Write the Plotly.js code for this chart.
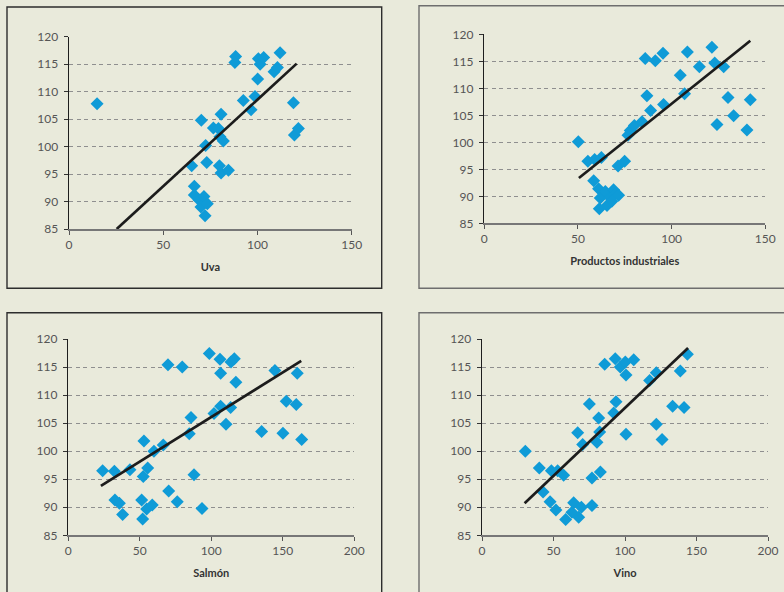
<!DOCTYPE html>
<html>
<head>
<meta charset="utf-8">
<script src="https://cdn.plot.ly/plotly-3.0.1.min.js"></script>
<style>
html,body{margin:0;padding:0;background:#e9eadb;}
#chart{width:784px;height:592px;}
</style>
</head>
<body>
<div id="chart"></div>
<script>
// ---- Data ----
const panelTitles = ["Uva", "Productos industriales", "Salmón", "Vino"];

const uvaX = [14.9, 88.4, 88.0, 70.2, 80.7, 76.6, 79.3, 72.5, 80.1, 81.9, 65.1, 73.1, 79.8, 80.7, 84.6, 66.5, 66.5, 69.0, 71.6, 70.0, 73.4, 72.2, 92.5, 96.6, 98.7, 100.1, 100.5, 101.4, 103.3, 108.8, 110.6, 112.0, 119.1, 119.6, 121.7];
const uvaY = [107.8, 116.4, 115.3, 104.8, 105.9, 103.4, 103.3, 100.2, 101.8, 101.0, 96.5, 97.1, 96.5, 95.2, 95.7, 92.8, 91.2, 90.3, 90.9, 89.0, 89.6, 87.4, 108.4, 106.7, 109.1, 112.3, 116.0, 115.0, 116.2, 113.6, 114.4, 117.1, 108.0, 102.1, 103.3];
const uvaTrendX = [25.3, 120.8];
const uvaTrendY = [85.0, 115.1];

const prodX = [50.2, 55.3, 58.9, 62.5, 58.4, 61.0, 61.9, 61.4, 64.6, 65.5, 67.3, 69.0, 69.6, 71.7, 68.1, 71.4, 74.9, 76.7, 77.9, 80.1, 84.2, 85.9, 86.8, 88.8, 91.3, 95.4, 95.7, 104.6, 106.9, 108.4, 114.8, 121.5, 123.0, 124.2, 127.8, 130.1, 133.1, 140.2, 142.0];
const prodY = [100.1, 96.5, 96.8, 97.2, 92.9, 91.4, 89.7, 87.7, 90.9, 88.3, 89.7, 91.2, 90.3, 90.2, 89.1, 95.6, 96.5, 101.3, 102.2, 103.1, 103.8, 115.5, 108.6, 105.9, 115.1, 116.5, 107.0, 112.4, 109.0, 116.7, 114.0, 117.6, 114.7, 103.3, 114.0, 108.3, 104.9, 102.3, 107.9];
const prodTrendX = [50.5, 142.0];
const prodTrendY = [93.4, 118.8];

const salmonX = [24.0, 32.2, 32.6, 35.7, 38.0, 43.1, 52.9, 52.4, 55.5, 51.3, 52.0, 54.8, 58.7, 59.9, 66.4, 69.7, 70.2, 76.2, 79.7, 84.6, 85.8, 87.9, 93.5, 98.6, 101.9, 106.5, 106.1, 106.5, 110.3, 113.5, 113.8, 116.1, 117.2, 135.2, 144.5, 150.1, 152.4, 159.4, 160.1, 163.2];
const salmonY = [96.5, 96.4, 91.3, 90.7, 88.7, 96.7, 101.8, 95.5, 97.0, 91.3, 87.9, 89.7, 90.4, 100.0, 101.1, 115.4, 92.9, 91.0, 115.0, 103.1, 106.0, 95.8, 89.8, 117.4, 106.7, 108.0, 116.4, 113.9, 104.8, 107.8, 115.9, 116.5, 112.3, 103.5, 114.4, 103.2, 108.9, 108.3, 113.9, 102.1];
const salmonTrendX = [22.8, 162.9];
const salmonTrendY = [93.8, 116.1];

const vinoX = [30.3, 40.1, 42.7, 47.6, 48.5, 51.7, 52.9, 57.1, 58.5, 62.9, 64.1, 67.6, 69.5, 66.9, 70.4, 75.1, 76.9, 76.9, 80.4, 81.6, 82.3, 82.8, 85.8, 92.1, 93.2, 93.7, 96.7, 100.2, 100.7, 100.7, 106.1, 117.2, 121.9, 121.9, 125.9, 133.3, 138.7, 141.3, 143.6];
const vinoY = [100.0, 97.0, 92.7, 91.0, 96.5, 89.5, 96.5, 95.7, 87.8, 89.1, 90.8, 88.2, 90.0, 103.3, 101.2, 108.4, 90.3, 95.2, 101.6, 105.9, 103.4, 96.3, 115.5, 106.8, 116.5, 108.8, 115.0, 115.9, 113.6, 103.0, 116.3, 112.6, 114.0, 104.8, 102.1, 108.0, 114.3, 107.8, 117.3];
const vinoTrendX = [29.8, 144.1];
const vinoTrendY = [90.7, 118.4];

const xTicks12 = [0, 50, 100, 150];
const xTicks34 = [0, 50, 100, 150, 200];
const yTicks = [85, 90, 95, 100, 105, 110, 115, 120];

// ---- Layout helpers ----
const W = 784, H = 592;
const px = v => v / W;
const py = v => 1 - v / H;

const BG = '#e9eadb';
const MARK = '#0f9bd7';
const FONT = 'Lato, "Open Sans", sans-serif';

const panels = [
  {x: uvaX, y: uvaY, tx: uvaTrendX, ty: uvaTrendY, xr: [0, 150], ticks: xTicks12,
   dx: [69, 351.7], dy: [229, 36.7], box: [7, 7, 381.7, 288.3], boxColor: '#2d2d2d'},
  {x: prodX, y: prodY, tx: prodTrendX, ty: prodTrendY, xr: [0, 150], ticks: xTicks12,
   dx: [484.3, 765.3], dy: [223.3, 34.3], box: [419, 5.7, 800, 288.3], boxColor: '#6e6e6e'},
  {x: salmonX, y: salmonY, tx: salmonTrendX, ty: salmonTrendY, xr: [0, 200], ticks: xTicks34,
   dx: [68.3, 354.3], dy: [535.3, 339], box: [7, 312.7, 381.7, 610], boxColor: '#2d2d2d'},
  {x: vinoX, y: vinoY, tx: vinoTrendX, ty: vinoTrendY, xr: [0, 200], ticks: xTicks34,
   dx: [482, 768], dy: [535.3, 339], box: [419, 312.7, 800, 610], boxColor: '#6e6e6e'}
];

const data = [];
const layout = {
  width: W, height: H,
  margin: {l: 0, r: 0, t: 0, b: 0},
  paper_bgcolor: BG, plot_bgcolor: BG,
  showlegend: false,
  font: {family: FONT, size: 11, color: '#555'},
  shapes: []
};

panels.forEach((p, i) => {
  const n = i + 1;
  const xa = n === 1 ? 'x' : 'x' + n;
  const ya = n === 1 ? 'y' : 'y' + n;
  data.push({
    x: p.x, y: p.y, xaxis: xa, yaxis: ya, type: 'scatter', mode: 'markers',
    marker: {symbol: 'diamond', size: 10, color: MARK, line: {width: 0}},
    cliponaxis: false, hoverinfo: 'skip'
  });
  data.push({
    x: p.tx, y: p.ty, xaxis: xa, yaxis: ya, type: 'scatter', mode: 'lines',
    line: {color: '#1c1c1c', width: 2.7}, hoverinfo: 'skip'
  });
  layout['xaxis' + (n === 1 ? '' : n)] = {
    domain: [px(p.dx[0]), px(p.dx[1])],
    anchor: ya, range: p.xr, tickvals: p.ticks, ticktext: p.ticks.map(String),
    showgrid: false, zeroline: false,
    showline: true, linecolor: '#777', linewidth: 1.6,
    ticks: 'outside', ticklen: 4, tickcolor: '#555', tickwidth: 1,
    tickfont: {family: FONT, size: 12, color: '#555'},
    title: {text: '<b>' + panelTitles[i] + '</b>', font: {family: FONT, size: 11, color: '#333'}, standoff: 12},
    fixedrange: true
  };
  layout['yaxis' + (n === 1 ? '' : n)] = {
    domain: [py(p.dy[0]), py(p.dy[1])],
    anchor: xa, range: [85, 120], tickvals: yTicks, ticktext: yTicks.map(String),
    showgrid: true, gridcolor: '#8f8f8f', gridwidth: 1, griddash: '4px,3.5px',
    zeroline: false,
    showline: true, linecolor: '#1e1e1e', linewidth: 1.4,
    ticks: 'outside', ticklen: 4, tickcolor: '#333', tickwidth: 1,
    tickfont: {family: FONT, size: 12, color: '#555'},
    ticklabelstandoff: 3,
    fixedrange: true
  };
  layout.shapes.push({
    type: 'rect', xref: 'paper', yref: 'paper',
    x0: px(p.box[0]), x1: px(p.box[2]), y0: py(p.box[3]), y1: py(p.box[1]),
    line: {color: p.boxColor, width: 1.4}, fillcolor: 'rgba(0,0,0,0)', layer: 'below'
  });
});

Plotly.newPlot('chart', data, layout, {staticPlot: true, displayModeBar: false});
</script>
</body>
</html>
